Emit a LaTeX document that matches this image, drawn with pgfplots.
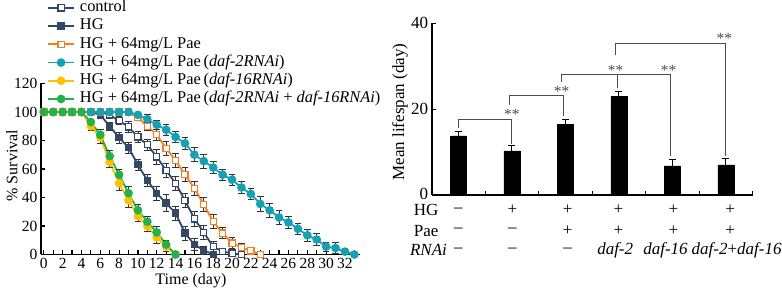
\documentclass[border=0pt]{standalone}
\usepackage{fontspec}
\setmainfont{Liberation Serif}
\usepackage{pgfplots}
\pgfplotsset{compat=1.18}
\usepackage{pgfplotstable}

\definecolor{cnavy}{RGB}{50,72,102}
\definecolor{corange}{RGB}{247,125,35}
\definecolor{ccyan}{RGB}{22,160,180}
\definecolor{cyellow}{RGB}{255,192,0}
\definecolor{cgreen}{RGB}{34,177,76}
\definecolor{cbrk}{RGB}{77,77,77}

\newcommand{\lfont}{\fontsize{15.5}{18}\selectfont}
\newcommand{\legfont}{\fontsize{16.4}{19}\selectfont}
\newcommand{\labfont}{\fontsize{16}{19}\selectfont}
\newcommand{\rfont}{\fontsize{17}{20}\selectfont}

\pgfplotstableread{
x y e
0 100 0
1 100 0
2 100 0
3 100 0
4 100 0
5 100 0
6 100 0
7 98 2
8 94 3
9 89.5 4
10 82.5 4
11 77 4
12 68.5 5
13 59 5
14 50 5
15 38 5
16 25 5
17 15.5 5
18 5.5 4
19 2 2
20 1 1
21 0 0
}\tcontrol

\pgfplotstableread{
x y e
0 100 0
1 100 0
2 100 0
3 100 0
4 100 0
5 100 0
6 98 2
7 90 3
8 82 4
9 75 4
10 63 4
11 52 4
12 43 5
13 36 6
14 29 5
15 15 5
16 7 4
17 3 3
18 0 0
}\thg

\pgfplotstableread{
x y e
0 100 0
1 100 0
2 100 0
3 100 0
4 100 0
5 100 0
6 100 0
7 100 0
8 100 0
9 100 0
10 96 2
11 90 3
12 84 4
13 74.5 5
14 66 5
15 56 5
16 46.5 5
17 35 5
18 23 5
19 15 4
20 8 4
21 5 3
22 2.5 2
23 0 0
}\tpae

\pgfplotstableread{
x y e
0 100 0
1 100 0
2 100 0
3 100 0
4 100 0
5 100 0
6 100 0
7 100 0
8 100 0
9 100 0
10 98 2
11 95 3
12 91 3
13 87.5 4
14 82.5 4
15 78 4
16 70 5
17 65.5 5
18 61 4
19 56 4
20 52.5 4
21 47 4
22 42.5 4
23 35.5 5
24 31 5
25 26 5
26 22.5 4
27 18 4
28 13.5 4
29 10.5 4
30 5.5 3
31 4.5 4
32 2 2
33 0 0
}\tdaftwo

\pgfplotstableread{
x y e
0 100 0
1 100 0
2 100 0
3 100 0
4 100 0
5 90 3
6 82 4
7 65 4
8 50 5
9 38 5
10 27 4
11 20 4
12 12 4
13 5.5 3
14 0 0
}\tdafsix

\pgfplotstableread{
x y e
0 100 0
1 100 0
2 100 0
3 100 0
4 100 0
5 93 2
6 84 4
7 69 4
8 56 4
9 43 5
10 31 4
11 23 4
12 15.5 4
13 7 3
14 0 0
}\tboth

\pgfplotstableread{
x y e
0 13.8 0.9
1 10.3 1.2
2 16.5 1.1
3 22.9 1.3
4 6.8 1.4
5 7.0 1.4
}\tbars

\begin{document}
\begin{tikzpicture}
\useasboundingbox (0pt,0pt) rectangle (782pt,296pt);
% ---------------- left: survival curves ----------------
\begin{axis}[
  at={(41pt,41.5pt)}, anchor=south west, scale only axis,
  width=319pt, height=171pt,
  xmin=-0.3, xmax=33.6, ymin=0, ymax=120,
  axis x line=bottom, axis y line=left,
  axis line style={-, line width=1.7pt, black},
  xtick={0,2,...,32}, minor xtick={1,3,...,33},
  ytick={0,20,...,120},
  tick align=inside,
  major tick length=4pt, minor tick length=4pt,
  every tick/.style={line width=1.2pt, black},
  /pgf/number format/assume math mode=true,
  tick label style={font=\lfont},
  label style={font=\labfont},
  xlabel={Time (day)},
  ylabel={\% Survival},
  xlabel style={at={(axis description cs:0.47,-0.155)}, anchor=center},
  ylabel style={at={(axis description cs:-0.091,0.52)}, anchor=center},
  clip=false,
  legend cell align=left,
  legend style={at={(axis description cs:0.0188,1.4854)}, anchor=north west,
    draw=none, fill=none, inner sep=0pt, font=\legfont, row sep=3.7pt,
    column sep=5pt,
    nodes={inner sep=0pt, text height=11pt, text depth=3.5pt}},
  legend image code/.code={\draw[mark repeat=2,mark phase=2] plot coordinates {(0pt,0pt) (13pt,0pt) (26pt,0pt)};},
  error bars/error bar style={line width=0.8pt, black!80},
  error bars/error mark options={rotate=90, mark size=3.3pt, line width=0.8pt, black!80},
  every axis plot/.append style={line width=1.8pt},
]
\addplot[cnavy, mark=square*, mark size=3.1pt, mark options={fill=white, line width=1.2pt},
  error bars/.cd, y dir=both, y explicit] table[x=x,y=y,y error=e] {\tcontrol};
\addlegendentry{control}
\addplot[cnavy, mark=square*, mark size=3.1pt, mark options={fill=cnavy, line width=1.2pt},
  error bars/.cd, y dir=both, y explicit] table[x=x,y=y,y error=e] {\thg};
\addlegendentry{HG}
\addplot[corange, mark=square*, mark size=3.1pt, mark options={fill=white, line width=1.2pt},
  error bars/.cd, y dir=both, y explicit] table[x=x,y=y,y error=e] {\tpae};
\addlegendentry{HG + 64mg/L Pae}
\addplot[ccyan, mark=*, mark size=3.4pt, mark options={fill=ccyan},
  error bars/.cd, y dir=both, y explicit] table[x=x,y=y,y error=e] {\tdaftwo};
\addlegendentry{HG + 64mg/L Pae\,(\textit{daf-2RNAi})}
\addplot[cyellow, mark=*, mark size=3.4pt, mark options={fill=cyellow},
  error bars/.cd, y dir=both, y explicit] table[x=x,y=y,y error=e] {\tdafsix};
\addlegendentry{HG + 64mg/L Pae\,(\textit{daf-16RNAi})}
\addplot[cgreen, mark=*, mark size=3.4pt, mark options={fill=cgreen},
  error bars/.cd, y dir=both, y explicit] table[x=x,y=y,y error=e] {\tboth};
\addlegendentry{HG + 64mg/L Pae\,(\textit{daf-2RNAi} + \textit{daf-16RNAi})}
\end{axis}

% ---------------- right: mean lifespan bars ----------------
\begin{axis}[
  at={(431.7pt,101pt)}, anchor=south west, scale only axis,
  width=321pt, height=171.7pt,
  xmin=-0.5, xmax=5.5, ymin=0, ymax=40,
  axis x line=bottom, axis y line=left,
  axis line style={-, line width=1.7pt, black},
  xtick={0.5,1.5,...,5.5}, xticklabels={},
  ytick={0,20,40}, yticklabels={\raisebox{3pt}{0},20,40},
  tick align=inside,
  major tick length=4pt,
  every tick/.style={line width=1.2pt, black},
  /pgf/number format/assume math mode=true,
  tick label style={font=\rfont},
  label style={font=\rfont},
  ylabel={Mean lifespan (day)},
  ylabel style={at={(axis description cs:-0.099,0.483)}, anchor=center},
  clip=false,
]
\addplot[ybar, bar width=16pt, fill=black, draw=black,
  error bars/.cd, y dir=plus, y explicit,
  error bar style={line width=1pt, black},
  error mark options={rotate=90, mark size=3.5pt, line width=1pt, black}]
  table[x=x,y=y,y error=e] {\tbars};

% significance brackets
\draw[cbrk, line width=0.9pt] (axis cs:0,15.5) -- (axis cs:0,17.6) -- (axis cs:0.99,17.6) -- (axis cs:0.99,11.8);
\draw[cbrk, line width=0.9pt] (axis cs:0.96,21) -- (axis cs:0.96,23.1) -- (axis cs:1.97,23.1) -- (axis cs:1.97,18.3);
\draw[cbrk, line width=0.9pt] (axis cs:1.93,26.4) -- (axis cs:1.93,28) -- (axis cs:3.96,28) -- (axis cs:3.96,9);
\draw[cbrk, line width=0.9pt] (axis cs:2.98,28) -- (axis cs:2.98,24.9);
\draw[cbrk, line width=0.9pt] (axis cs:2.93,32.6) -- (axis cs:2.93,35.2) -- (axis cs:4.99,35.2) -- (axis cs:4.99,9);
\node[font=\lfont, text=cbrk] at (axis cs:1.0,18.7) {**};
\node[font=\lfont, text=cbrk] at (axis cs:1.93,24.2) {**};
\node[font=\lfont, text=cbrk] at (axis cs:2.94,29.1) {**};
\node[font=\lfont, text=cbrk] at (axis cs:3.93,29.1) {**};
\node[font=\lfont, text=cbrk] at (axis cs:4.97,36.4) {**};

% condition table
\node[font=\rfont, anchor=west] at (axis cs:-0.9,-3.5) {HG};
\node[font=\rfont, anchor=west] at (axis cs:-0.9,-8.3) {Pae};
\node[font=\rfont, anchor=west] at (axis cs:-0.97,-12.9) {\textit{RNAi}};
\node[font=\rfont] at (axis cs:0,-3.5) {–};
\node[font=\rfont] at (axis cs:0,-8.3) {–};
\node[font=\rfont] at (axis cs:0,-12.9) {–};
\node[font=\rfont] at (axis cs:1.01,-3.5) {+};
\node[font=\rfont] at (axis cs:1.01,-8.3) {–};
\node[font=\rfont] at (axis cs:1.01,-12.9) {–};
\node[font=\rfont] at (axis cs:2.04,-3.5) {+};
\node[font=\rfont] at (axis cs:2.04,-8.3) {+};
\node[font=\rfont] at (axis cs:2.04,-12.9) {–};
\node[font=\rfont] at (axis cs:2.99,-3.5) {+};
\node[font=\rfont] at (axis cs:2.99,-8.3) {+};
\node[font=\rfont] at (axis cs:2.93,-12.9) {\textit{daf-2}};
\node[font=\rfont] at (axis cs:4.02,-3.5) {+};
\node[font=\rfont] at (axis cs:4.02,-8.3) {+};
\node[font=\rfont] at (axis cs:3.87,-12.9) {\textit{daf-16}};
\node[font=\rfont] at (axis cs:5.08,-3.5) {+};
\node[font=\rfont] at (axis cs:5.08,-8.3) {+};
\node[font=\rfont] at (axis cs:5.2,-12.9) {\textit{daf-2}+\textit{daf-16}};
\end{axis}
\end{tikzpicture}
\end{document}
